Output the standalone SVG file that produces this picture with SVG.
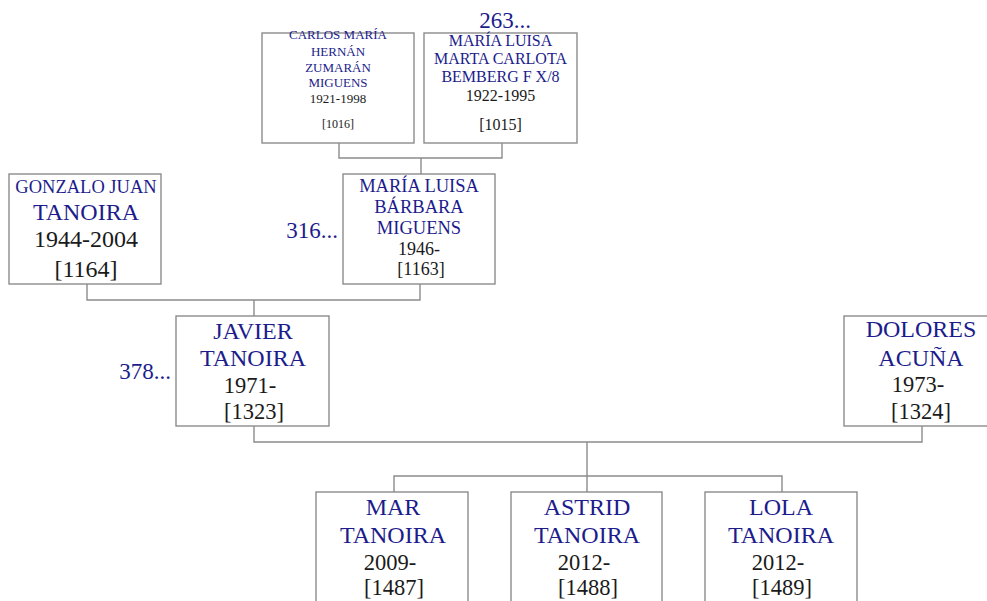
<svg xmlns="http://www.w3.org/2000/svg" width="987" height="601" viewBox="0 0 987 601">
<style>
.box{fill:#fff;stroke:#8c8c8c;stroke-width:1.4}
.ln{fill:none;stroke:#8c8c8c;stroke-width:1.4}
text{font-family:"Liberation Serif","DejaVu Serif",serif;text-anchor:middle}
.nm{fill:#1c1c8c}
.dt{fill:#1a1a1a}
.more{fill:#1c1c8c;text-anchor:end;font-size:23px}
</style>
<rect width="987" height="601" fill="#fff"/>
<g id="connectors">
<path class="ln" d="M339 143V158H502V143M421 158V174"/>
<path class="ln" d="M87 284V300H420V284M254 300V316"/>
<path class="ln" d="M254 426V442H922V426M587 442V476"/>
<path class="ln" d="M394 492V476H782V492M587 476V492"/>
</g>
<g id="n1016">
<rect class="box" x="262" y="33" width="152" height="110"/>
<text class="nm" font-size="13"><tspan x="338" y="39">CARLOS MARÍA</tspan><tspan x="338" y="56">HERNÁN</tspan><tspan x="338" y="72">ZUMARÁN</tspan><tspan x="338" y="87">MIGUENS</tspan></text>
<text class="dt" font-size="13"><tspan x="338" y="103">1921-1998</tspan></text>
<text class="dt" font-size="12"><tspan x="338" y="128">[1016]</tspan></text>
</g>
<g id="n1015">
<rect class="box" x="424" y="33" width="153" height="110"/>
<text class="more" x="531" y="28">263...</text>
<text class="nm" font-size="16"><tspan x="500.5" y="46">MARÍA LUISA</tspan><tspan x="500.5" y="64">MARTA CARLOTA</tspan><tspan x="500.5" y="82">BEMBERG F X/8</tspan></text>
<text class="dt" font-size="16"><tspan x="500.5" y="101">1922-1995</tspan><tspan x="500.5" y="130">[1015]</tspan></text>
</g>
<g id="n1164">
<rect class="box" x="9" y="174" width="152" height="110"/>
<text class="nm"><tspan x="86" y="193" font-size="18.5">GONZALO JUAN</tspan><tspan x="86" y="220" font-size="24">TANOIRA</tspan></text>
<text class="dt" font-size="24"><tspan x="86" y="247">1944-2004</tspan><tspan x="86" y="277">[1164]</tspan></text>
</g>
<g id="n1163">
<rect class="box" x="343" y="174" width="152" height="110"/>
<text class="more" x="338" y="238">316...</text>
<text class="nm" font-size="18.5"><tspan x="419" y="192">MARÍA LUISA</tspan><tspan x="419" y="213">BÁRBARA</tspan><tspan x="419" y="234">MIGUENS</tspan></text>
<text class="dt" font-size="18"><tspan x="419" y="255">1946-</tspan><tspan x="421" y="275">[1163]</tspan></text>
</g>
<g id="n1323">
<rect class="box" x="176" y="316" width="153" height="110"/>
<text class="more" x="171" y="379">378...</text>
<text class="nm" font-size="24"><tspan x="253" y="339">JAVIER</tspan><tspan x="253" y="366">TANOIRA</tspan></text>
<text class="dt" font-size="22.5"><tspan x="250" y="393">1971-</tspan><tspan x="254" y="419">[1323]</tspan></text>
</g>
<g id="n1324">
<rect class="box" x="844" y="316" width="153" height="110"/>
<text class="nm" font-size="24"><tspan x="921" y="337">DOLORES</tspan><tspan x="921" y="366">ACUÑA</tspan></text>
<text class="dt" font-size="22.5"><tspan x="918" y="392">1973-</tspan><tspan x="921" y="419">[1324]</tspan></text>
</g>
<g id="n1487">
<rect class="box" x="316" y="492" width="152" height="110"/>
<text class="nm" font-size="24"><tspan x="393" y="515">MAR</tspan><tspan x="393" y="543">TANOIRA</tspan></text>
<text class="dt" font-size="22.5"><tspan x="390" y="570">2009-</tspan><tspan x="394" y="595">[1487]</tspan></text>
</g>
<g id="n1488">
<rect class="box" x="511" y="492" width="151" height="110"/>
<text class="nm" font-size="24"><tspan x="587" y="515">ASTRID</tspan><tspan x="587" y="543">TANOIRA</tspan></text>
<text class="dt" font-size="22.5"><tspan x="584" y="570">2012-</tspan><tspan x="588" y="595">[1488]</tspan></text>
</g>
<g id="n1489">
<rect class="box" x="705" y="492" width="152" height="110"/>
<text class="nm" font-size="24"><tspan x="781" y="515">LOLA</tspan><tspan x="781" y="543">TANOIRA</tspan></text>
<text class="dt" font-size="22.5"><tspan x="778" y="570">2012-</tspan><tspan x="782" y="595">[1489]</tspan></text>
</g>
</svg>
